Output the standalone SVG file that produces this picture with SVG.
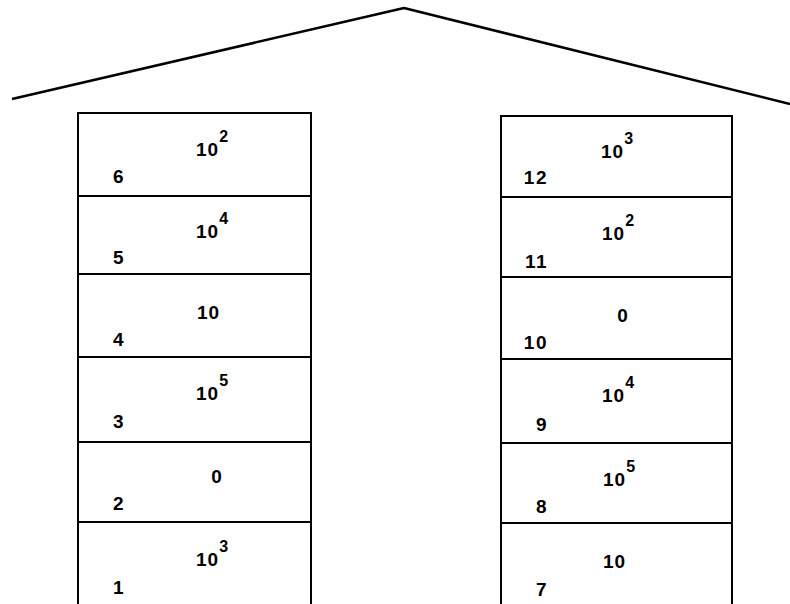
<svg xmlns="http://www.w3.org/2000/svg" width="790" height="604" viewBox="0 0 790 604">
<style>
.box{fill:none;stroke:#000;stroke-width:2}
.roof{fill:none;stroke:#000;stroke-width:2.5;stroke-linejoin:round}
text{font-family:"Liberation Sans",Arial,sans-serif;font-weight:bold;fill:#000}
.v{font-size:19px;letter-spacing:1px}
.s{font-size:16px}
.n{font-size:19px;letter-spacing:1.5px;text-anchor:end}
</style>
<rect width="790" height="604" fill="#fff"/>
<g id="roof"><polyline class="roof" points="12,99 404,8 790,104"/></g>
<g id="connectors"></g>
<g id="left-stack">
<g id="cell6"><rect class="box" x="78" y="113" width="233" height="83"/><text class="v" x="196" y="156">10<tspan class="s" dy="-14">2</tspan></text><text class="n" x="125" y="183">6</text></g>
<g id="cell5"><rect class="box" x="78" y="196" width="233" height="78"/><text class="v" x="196" y="238">10<tspan class="s" dy="-14">4</tspan></text><text class="n" x="125" y="264">5</text></g>
<g id="cell4"><rect class="box" x="78" y="274" width="233" height="83"/><text class="v" x="197" y="319">10</text><text class="n" x="125" y="346">4</text></g>
<g id="cell3"><rect class="box" x="78" y="357" width="233" height="85"/><text class="v" x="196" y="400">10<tspan class="s" dy="-14">5</tspan></text><text class="n" x="125" y="428">3</text></g>
<g id="cell2"><rect class="box" x="78" y="442" width="233" height="80"/><text class="v" x="217" y="483" text-anchor="middle">0</text><text class="n" x="125" y="510">2</text></g>
<g id="cell1"><rect class="box" x="78" y="522" width="233" height="84"/><text class="v" x="196" y="566">10<tspan class="s" dy="-14">3</tspan></text><text class="n" x="125" y="594">1</text></g>
</g>
<g id="right-stack">
<g id="cell12"><rect class="box" x="501" y="116" width="231" height="81"/><text class="v" x="601" y="158">10<tspan class="s" dy="-14">3</tspan></text><text class="n" x="548" y="184">12</text></g>
<g id="cell11"><rect class="box" x="501" y="197" width="231" height="80"/><text class="v" x="602" y="240">10<tspan class="s" dy="-14">2</tspan></text><text class="n" x="548" y="268">11</text></g>
<g id="cell10"><rect class="box" x="501" y="277" width="231" height="82"/><text class="v" x="623" y="322" text-anchor="middle">0</text><text class="n" x="548" y="349">10</text></g>
<g id="cell9"><rect class="box" x="501" y="359" width="231" height="84"/><text class="v" x="602" y="402">10<tspan class="s" dy="-14">4</tspan></text><text class="n" x="548" y="431">9</text></g>
<g id="cell8"><rect class="box" x="501" y="443" width="231" height="80"/><text class="v" x="603" y="486">10<tspan class="s" dy="-14">5</tspan></text><text class="n" x="548" y="513">8</text></g>
<g id="cell7"><rect class="box" x="501" y="523" width="231" height="83"/><text class="v" x="603" y="568">10</text><text class="n" x="548" y="596">7</text></g>
</g>
</svg>
